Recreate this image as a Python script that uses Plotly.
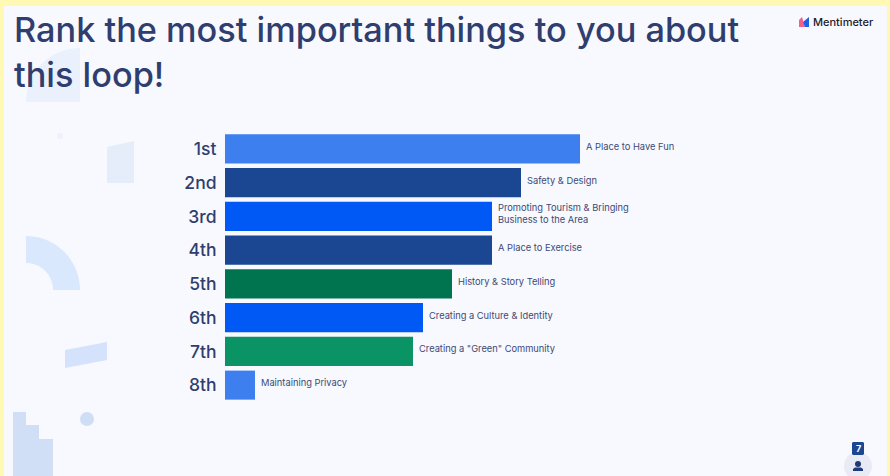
import numpy as np
import plotly.graph_objects as go

W, H = 890, 476

# Poll results, top rank first
ranks = ["1st", "2nd", "3rd", "4th", "5th", "6th", "7th", "8th"]
scores = [35.5, 29.6, 26.7, 26.7, 22.7, 19.8, 18.8, 3.0]
labels = [
    "A Place to Have Fun",
    "Safety &amp; Design",
    "Promoting Tourism &amp; Bringing<br>Business to the Area",
    "A Place to Exercise",
    "History &amp; Story Telling",
    "Creating a Culture &amp; Identity",
    'Creating a "Green" Community',
    "Maintaining Privacy",
]
bar_colors = ["#3D7FEF", "#1A4692", "#0059F5", "#1A4692", "#00744F", "#0059F5", "#0A9364", "#3D7FEF"]

INK = "#2F3E6E"
FONT = "Inter"


def px(x, y):
    return x / W, 1 - y / H


def poly(points, color):
    """Closed filled polygon given in page pixels."""
    coords = [px(x, y) for x, y in points]
    path = "M" + " L".join(f"{a:.5f},{b:.5f}" for a, b in coords) + " Z"
    return dict(type="path", xref="paper", yref="paper", path=path,
                fillcolor=color, line_width=0, layer="below")


def disc(cx, cy, r, color):
    x0, y0 = px(cx - r, cy - r)
    x1, y1 = px(cx + r, cy + r)
    return dict(type="circle", xref="paper", yref="paper", x0=x0, y0=y0, x1=x1, y1=y1,
                fillcolor=color, line_width=0, layer="below")


def arc(cx, cy, r, a0, a1, n=40):
    t = np.radians(np.linspace(a0, a1, n))
    return list(zip(cx + r * np.cos(t), cy + r * np.sin(t)))


shapes = [
    # slide panel on the yellow frame
    poly([(4, 6), (887, 6), (887, 476), (4, 476)], "#F7F9FF"),
    # background decoration
    poly([(80, 102)] + arc(80, 102, 54, 180, 270), "#EAF1FC"),
    disc(60, 136, 3, "#EDF1FB"),
    poly([(107, 147), (134, 141), (134, 183), (107, 183)], "#E5EDFA"),
    poly(arc(26, 290, 54, -90, 0) + arc(26, 290, 27, 0, -90), "#DAE8FD"),
    poly([(65, 350), (107, 342), (107, 360), (65, 368)], "#D4E2FB"),
    disc(87, 419, 7, "#CFDDF5"),
    poly([(13, 412), (26, 412), (26, 425), (39, 425), (39, 439), (53, 439), (53, 476), (13, 476)], "#D0DFF5"),
    # logo mark
    poly([(799, 27), (799, 20), (802, 17), (805, 27)], "#F0608A"),
    poly([(803, 22), (809, 17), (809, 27), (805, 27)], "#1F5FE8"),
    # participant counter
    disc(858, 466, 14, "#E8EBF5"),
    poly([(853, 442), (863, 442), (864, 443), (864, 454), (863, 455), (853, 455), (852, 454), (852, 443)], "#1A4692"),
    disc(858, 464, 3, "#1F3A78"),
    poly([(853, 471), (853, 469), (855, 467.5), (861, 467.5), (863, 469), (863, 471)], "#1F3A78"),
]

fig = go.Figure(
    go.Bar(
        x=scores,
        y=ranks,
        orientation="h",
        width=0.86,
        marker=dict(color=bar_colors, line_width=0),
        hoverinfo="skip",
    )
)

annotations = [
    dict(x=s, y=r, xref="x", yref="y", text=t, showarrow=False, xanchor="left", align="left",
         xshift=4, yshift=2.5, font=dict(family=FONT, size=9.3, color="#3E4A74"))
    for s, r, t in zip(scores, ranks, labels)
]
annotations += [
    dict(x=12 / W, y=1 - 7.5 / H, xref="paper", yref="paper", xanchor="left", yanchor="top", align="left",
         showarrow=False, text="Rank the most important things to you about<br>this loop!",
         font=dict(family=FONT, size=34.3, weight=500, color=INK)),
    dict(x=811 / W, y=1 - 22 / H, xref="paper", yref="paper", xanchor="left", yanchor="middle",
         showarrow=False, text="Mentimeter", font=dict(family=FONT, size=11, weight=500, color="#1C1C2C")),
    dict(x=858 / W, y=1 - 448.5 / H, xref="paper", yref="paper", xanchor="center", yanchor="middle",
         showarrow=False, text="7", font=dict(family=FONT, size=9, weight=700, color="#FFFFFF")),
]

fig.update_layout(
    width=W,
    height=H,
    margin=dict(l=0, r=0, t=0, b=0),
    paper_bgcolor="#FFF9B4",
    plot_bgcolor="rgba(0,0,0,0)",
    showlegend=False,
    shapes=shapes,
    annotations=annotations,
    xaxis=dict(domain=[225 / W, 1], range=[0, 66.5], visible=False, fixedrange=True),
    yaxis=dict(
        domain=[1 - 402 / H, 1 - 132 / H],
        anchor="free",
        position=225 / W,
        autorange="reversed",
        showgrid=False,
        showline=False,
        zeroline=False,
        ticks="outside",
        ticklen=5,
        tickcolor="rgba(0,0,0,0)",
        tickfont=dict(family=FONT, size=17.5, weight=500, color=INK),
        fixedrange=True,
    ),
)

fig.write_html("out.html", config={"displayModeBar": False})
